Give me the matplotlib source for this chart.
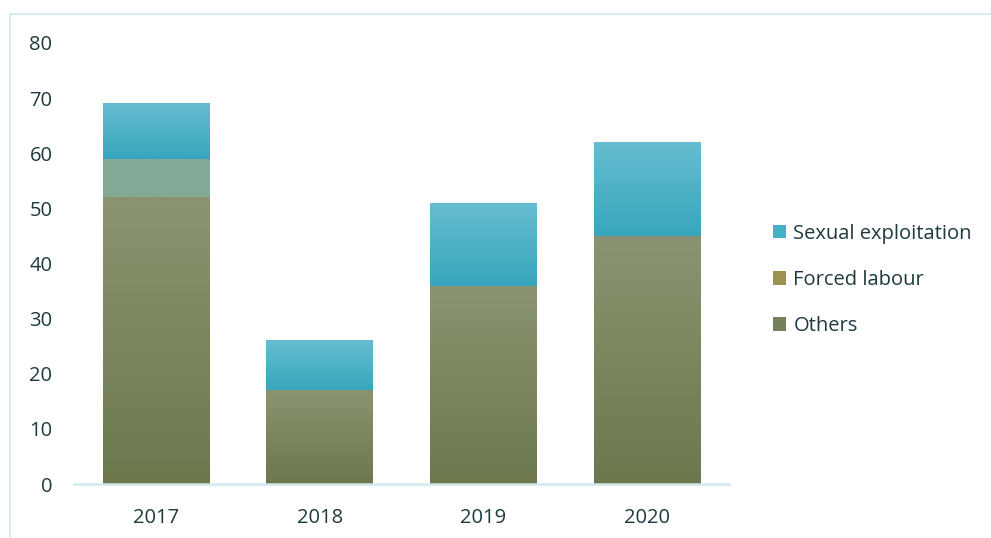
import numpy as np
import matplotlib.pyplot as plt
from matplotlib.colors import LinearSegmentedColormap
from matplotlib.patches import Rectangle, Patch

years = ["2017", "2018", "2019", "2020"]
others = [52, 17, 36, 45]
forced_labour = [7, 0, 0, 0]
sexual_exploitation = [10, 9, 15, 17]

text_color = "#1E3A3E"
line_color = "#CFE9EE"

plt.rcParams["font.family"] = ["Open Sans", "DejaVu Sans"]

fig = plt.figure(figsize=(9.91, 5.38), dpi=100)
ax = fig.add_axes([74 / 991, 1 - 484 / 538, (729 - 74) / 991, (484 - 43) / 538])

# light frame around the chart area
fig.patches.append(Rectangle((10 / 991, -0.1), 1.2, 1 - 14 / 538 + 0.1,
                             transform=fig.transFigure, fill=False,
                             edgecolor="#D6EEF1", linewidth=1.5))

x = np.arange(len(years))
width = 0.65

grad_others = LinearSegmentedColormap.from_list("o", ["#6C784C", "#8A9472"])
grad_sex = LinearSegmentedColormap.from_list("s", ["#37A6BD", "#67BDD0"])
grad_forced = LinearSegmentedColormap.from_list("f", ["#84A996", "#84A996"])

bottom = np.zeros(len(years))
series = [(others, grad_others, "Others"),
          (forced_labour, grad_forced, "Forced labour"),
          (sexual_exploitation, grad_sex, "Sexual exploitation")]
grad = np.linspace(0, 1, 256).reshape(-1, 1)
for vals, cmap, name in series:
    bars = ax.bar(x, vals, width, bottom=bottom, color="none", edgecolor="none")
    for b in bars:
        if b.get_height() <= 0:
            continue
        x0, y0 = b.get_x(), b.get_y()
        ax.imshow(grad, cmap=cmap, origin="lower", aspect="auto",
                  extent=[x0, x0 + b.get_width(), y0, y0 + b.get_height()],
                  zorder=2)
    bottom += np.array(vals)

ax.set_xlim(-0.5, 3.5)
ax.set_ylim(0, 80)
ax.set_yticks(range(0, 81, 10))
ax.set_xticks(x)
ax.set_xticklabels(years)
for s in ["top", "right", "left"]:
    ax.spines[s].set_visible(False)
ax.spines["bottom"].set_color(line_color)
ax.spines["bottom"].set_linewidth(1.8)
ax.tick_params(axis="both", length=0, labelsize=14.5, colors=text_color)
ax.tick_params(axis="y", pad=15.5)
ax.tick_params(axis="x", pad=17)

handles = [Patch(facecolor="#45B1C6", label="Sexual exploitation"),
           Patch(facecolor="#9C9350", label="Forced labour"),
           Patch(facecolor="#75805A", label="Others")]
leg = fig.legend(handles=handles, loc="center left",
                 bbox_to_anchor=(755 / 991, 1 - 280 / 538), frameon=False,
                 fontsize=14.5, labelspacing=1.3, handlelength=0.65,
                 handleheight=0.65, handletextpad=0.35)
for t in leg.get_texts():
    t.set_color(text_color)

fig.savefig("out.png", dpi=100)
